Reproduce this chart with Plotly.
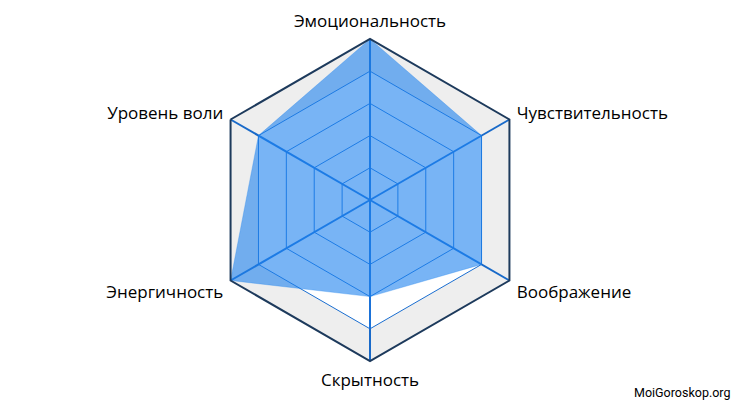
import plotly.graph_objects as go

# категории и значения (проценты)
categories = ["Эмоциональность", "Чувствительность", "Воображение",
              "Скрытность", "Энергичность", "Уровень воли"]
values = [100, 80, 80, 60, 100, 80]
band_outer = [100] * 6
band_inner = [80] * 6

cats_closed = categories + categories[:1]

fig = go.Figure()

# серая полоса между 80 и 100 (внутренний контур в обратную сторону -> дырка)
inner_cats = cats_closed[::-1]
fig.add_trace(go.Scatterpolar(
    r=band_outer + band_outer[:1] + band_inner + band_inner[:1],
    theta=cats_closed + inner_cats,
    fill="toself", fillcolor="rgba(0,0,0,0.065)", mode="none",
    hoverinfo="skip", showlegend=False))

fig.add_trace(go.Scatterpolar(
    r=values + values[:1], theta=cats_closed,
    fill="toself", fillcolor="rgba(30,130,238,0.6)", mode="lines",
    line=dict(width=0.5, color="rgba(30,130,238,0.6)"), showlegend=False))

fig.update_layout(
    width=740, height=400,
    margin=dict(l=0, r=0, t=0, b=0),
    paper_bgcolor="white",
    font=dict(family="Open Sans", size=17, color="#000"),
    polar=dict(
        domain=dict(x=[201 / 740, 523 / 740], y=[47 / 400, 369 / 400]),
        gridshape="linear",
        bgcolor="white",
        radialaxis=dict(range=[0, 100], dtick=20, showticklabels=False,
                        ticks="", showline=False, gridcolor="#1b72d8",
                        gridwidth=1.2),
        angularaxis=dict(rotation=90, direction="clockwise",
                         gridcolor="#1b72d8", gridwidth=2,
                         linecolor="#1d3a5c", linewidth=2,
                         ticks="outside", ticklen=4,
                         tickcolor="rgba(0,0,0,0)",
                         tickfont=dict(family="Open Sans", size=17, color="#000")),
    ),
    annotations=[dict(text="MoiGoroskop.org", x=724 / 740, y=16 / 400,
                      xref="paper", yref="paper", xanchor="right",
                      yanchor="middle", showarrow=False,
                      font=dict(family="Roboto", size=12.5, color="#000"))],
)

fig.write_html("out.html")
